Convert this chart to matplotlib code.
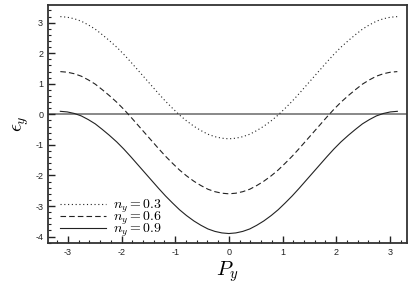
import matplotlib
matplotlib.use("Agg")
import matplotlib.pyplot as plt
import matplotlib.ticker as mticker

# momentum grid P_y (rad) and dispersion values
p_y = [-3.14, -3.01, -2.88, -2.75, -2.62, -2.49, -2.36, -2.23, -2.09, -1.96, -1.83, -1.70,
       -1.57, -1.44, -1.31, -1.18, -1.05, -0.92, -0.79, -0.65, -0.52, -0.39, -0.26, -0.13,
       0.0,
       0.13, 0.26, 0.39, 0.52, 0.65, 0.79, 0.92, 1.05, 1.18, 1.31, 1.44, 1.57,
       1.70, 1.83, 1.96, 2.09, 2.23, 2.36, 2.49, 2.62, 2.75, 2.88, 3.01, 3.14]
eps_03 = [3.20, 3.18, 3.13, 3.05, 2.93, 2.79, 2.61, 2.42, 2.20, 1.97, 1.72, 1.46,
          1.20, 0.94, 0.68, 0.43, 0.20, -0.02, -0.21, -0.39, -0.53, -0.65, -0.73, -0.78,
          -0.80,
          -0.78, -0.73, -0.65, -0.53, -0.39, -0.21, -0.02, 0.20, 0.43, 0.68, 0.94, 1.20,
          1.46, 1.72, 1.97, 2.20, 2.42, 2.61, 2.79, 2.93, 3.05, 3.13, 3.18, 3.20]
eps_06 = [1.40, 1.38, 1.33, 1.25, 1.13, 0.99, 0.81, 0.62, 0.40, 0.17, -0.08, -0.34,
          -0.60, -0.86, -1.12, -1.37, -1.60, -1.82, -2.01, -2.19, -2.33, -2.45, -2.53, -2.58,
          -2.60,
          -2.58, -2.53, -2.45, -2.33, -2.19, -2.01, -1.82, -1.60, -1.37, -1.12, -0.86, -0.60,
          -0.34, -0.08, 0.17, 0.40, 0.62, 0.81, 0.99, 1.13, 1.25, 1.33, 1.38, 1.40]
eps_09 = [0.10, 0.08, 0.03, -0.05, -0.17, -0.31, -0.49, -0.68, -0.90, -1.13, -1.38, -1.64,
          -1.90, -2.16, -2.42, -2.67, -2.90, -3.12, -3.31, -3.49, -3.63, -3.75, -3.83, -3.88,
          -3.90,
          -3.88, -3.83, -3.75, -3.63, -3.49, -3.31, -3.12, -2.90, -2.67, -2.42, -2.16, -1.90,
          -1.64, -1.38, -1.13, -0.90, -0.68, -0.49, -0.31, -0.17, -0.05, 0.03, 0.08, 0.10]
labels = [r"$n_y = 0.3$", r"$n_y = 0.6$", r"$n_y = 0.9$"]

plt.rcParams["mathtext.fontset"] = "cm"
plt.rcParams["axes.unicode_minus"] = False
plt.rcParams["font.family"] = ["Liberation Sans", "DejaVu Sans"]

INK = "#222222"

fig = plt.figure(figsize=(4.15, 2.93), dpi=100)
ax = fig.add_axes([48 / 415, 1 - 243 / 293, (407 - 48) / 415, (243 - 5) / 293])

ax.axhline(0, color="#888888", linewidth=1.4, zorder=1)
ax.plot(p_y, eps_03, color=INK, linewidth=0.8, linestyle=(0, (1, 2.4)), label=labels[0])
ax.plot(p_y, eps_06, color=INK, linewidth=0.8, linestyle=(0, (5, 2.8)), label=labels[1])
ax.plot(p_y, eps_09, color=INK, linewidth=0.8, linestyle="-", label=labels[2])

ax.set_xlim(-3.37, 3.32)
ax.set_ylim(-4.21, 3.58)
ax.xaxis.set_major_locator(mticker.MultipleLocator(1))
ax.xaxis.set_minor_locator(mticker.MultipleLocator(0.2))
ax.yaxis.set_major_locator(mticker.MultipleLocator(1))
ax.yaxis.set_minor_locator(mticker.MultipleLocator(0.2))
ax.tick_params(which="both", direction="in", top=False, right=False, colors=INK, labelsize=6.5)
ax.tick_params(which="major", length=5, width=1.0)
ax.tick_params(which="minor", length=2.5, width=0.8)
for s in ax.spines.values():
    s.set_linewidth(1.3)
    s.set_color("#333333")

ax.set_xlabel(r"$P_y$", fontsize=15, labelpad=2)
ax.set_ylabel(r"$\epsilon_y$", fontsize=14, labelpad=3)

ax.legend(loc="lower left", bbox_to_anchor=(0.022, 0.0), frameon=False, fontsize=10,
          handlelength=3.3, labelspacing=-0.4, handletextpad=0.5, borderaxespad=0.0,
          borderpad=0.3)

fig.savefig("out.png", dpi=100)
